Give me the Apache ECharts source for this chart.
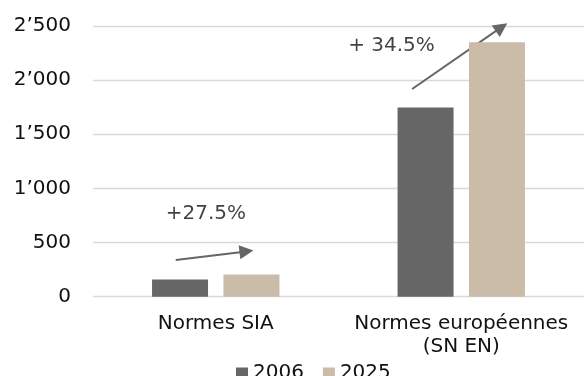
<!DOCTYPE html>
<html>
<head>
<meta charset="utf-8">
<script src="https://cdn.jsdelivr.net/npm/echarts@6/dist/echarts.min.js"></script>
<style>
  html, body { margin: 0; padding: 0; background: #ffffff; }
  #chart { width: 584px; height: 376px; }
</style>
</head>
<body>
<div id="chart"></div>
<script>
// Number of standards per catalogue
const categories = ['Normes SIA', 'Normes européennes\n(SN EN)'];
const seriesNames = ['2006', '2025'];
const values2006 = [160, 1747];
const values2025 = [204, 2350];
const yTicks = { min: 0, max: 2500, interval: 500 };

// Growth annotations: arrow from [x, y] to [x, y] on a hidden value axis
// spanning the categories (-0.5 .. 1.5), plus the label text and its anchor.
const growthArrows = [
  [[-0.163, 339], [0.125, 418]],
  [[0.80, 1918], [1.164, 2489]]
];
const growthLabels = ['+27.5%', '+ 34.5%'];
const growthLabelAnchors = [[-0.04, 770], [0.716, 2320]];

const FONT = '"DejaVu Sans", "Open Sans", sans-serif';
const TEXT = '#111111';

function fmtThousands(v) {
  return String(v).replace(/\B(?=(\d{3})+(?!\d))/g, '\u2019');
}

const chart = echarts.init(document.getElementById('chart'), null, { renderer: 'canvas' });

chart.setOption({
  animation: false,
  backgroundColor: '#ffffff',
  textStyle: { fontFamily: FONT },
  grid: { left: 93, right: -8, top: 26, bottom: 79.3, containLabel: false },
  legend: {
    data: seriesNames,
    left: 236,
    top: 363,
    padding: 0,
    itemWidth: 12,
    itemHeight: 11,
    itemGap: 19,
    icon: 'rect',
    textStyle: {
      fontFamily: FONT, fontSize: 20, lineHeight: 12, color: TEXT,
      padding: [0, 0, 0, 0]
    }
  },
  xAxis: [
    {
      type: 'category',
      data: categories,
      axisLine: { show: false },
      axisTick: { show: false },
      axisLabel: {
        color: TEXT, fontFamily: FONT, fontSize: 20, margin: 16, lineHeight: 23,
        interval: 0
      }
    },
    {
      type: 'value',
      min: -0.5, max: 1.5,
      show: false
    }
  ],
  yAxis: {
    type: 'value',
    min: yTicks.min,
    max: yTicks.max,
    interval: yTicks.interval,
    axisLine: { show: false },
    axisTick: { show: false },
    splitLine: { lineStyle: { color: '#d9d9d9', width: 1.3 } },
    axisLabel: {
      color: TEXT, fontFamily: FONT, fontSize: 20, margin: 22,
      formatter: fmtThousands
    }
  },
  series: [
    {
      name: seriesNames[0],
      type: 'bar',
      data: values2006,
      barWidth: 56,
      barGap: '27.5%',
      itemStyle: { color: '#666666' }
    },
    {
      name: seriesNames[1],
      type: 'bar',
      data: values2025,
      barWidth: 56,
      barGap: '27.5%',
      itemStyle: { color: '#cbbba9' }
    },
    {
      type: 'lines',
      coordinateSystem: 'cartesian2d',
      xAxisIndex: 1,
      yAxisIndex: 0,
      clip: false,
      silent: true,
      symbol: ['none', 'triangle'],
      symbolSize: [11, 14],
      lineStyle: { color: '#666666', width: 2, opacity: 1, curveness: 0 },
      data: growthArrows.map(function (c) { return { coords: c }; })
    },
    {
      type: 'scatter',
      xAxisIndex: 1,
      yAxisIndex: 0,
      clip: false,
      silent: true,
      symbolSize: 1,
      itemStyle: { color: 'rgba(0,0,0,0)' },
      label: {
        show: true,
        position: 'inside',
        color: TEXT,
        fontFamily: FONT,
        fontSize: 20,
        formatter: function (p) { return growthLabels[p.dataIndex]; }
      },
      data: growthLabelAnchors
    }
  ]
});
</script>
</body>
</html>
